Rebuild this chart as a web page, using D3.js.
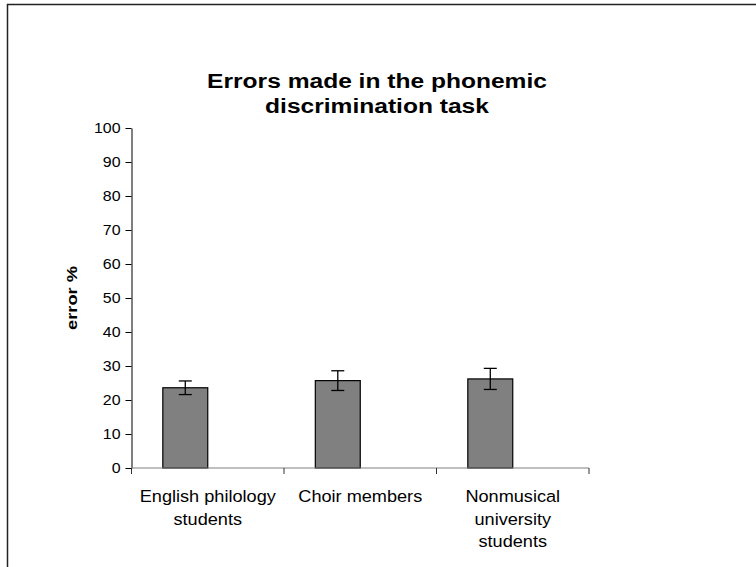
<!DOCTYPE html>
<html>
<head>
<meta charset="utf-8">
<script src="https://cdn.jsdelivr.net/npm/d3@7"></script>
<style>
  html, body { margin: 0; padding: 0; background: #fff; }
  svg { display: block; }
  text { font-family: "Liberation Sans", Arial, sans-serif; fill: #000; }
</style>
</head>
<body>
<svg id="chart" width="756" height="567"></svg>
<script>
// ---- data ----
const titleLines = ["Errors made in the phonemic", "discrimination task"];
const categories = ["English philology students", "Choir members", "Nonmusical university students"];
const categoryLines = [["English philology", "students"], ["Choir members"], ["Nonmusical", "university", "students"]];
const series = ["errors", "empty"];
const values = [23.6, 25.7, 26.2];
const errors = [2.0, 2.9, 3.1];
const yTicks = [0, 10, 20, 30, 40, 50, 60, 70, 80, 90, 100];
const yLabel = "error %";

// ---- layout ----
const svg = d3.select("#chart");
const plot = { left: 131.5, right: 589, top: 128, bottom: 468 };

svg.append("rect").attr("width", 756).attr("height", 567).attr("fill", "#fff");
svg.append("path").attr("d", "M7.5,567V4.5H756").attr("fill", "none").attr("stroke", "#222").attr("stroke-width", 1.5);

const x = d3.scaleBand().domain(categories).range([plot.left, plot.right]).padding(0);
const xs = d3.scaleBand().domain(series).range([0, x.bandwidth()]).paddingInner(0).paddingOuter(0.697);
const y = d3.scaleLinear().domain([0, 100]).range([plot.bottom, plot.top]);

// title
svg.append("g").selectAll("text").data(titleLines).join("text")
  .attr("transform", (d, i) => `translate(377,${88 + i * 24.5}) scale(1.17,1)`)
  .attr("text-anchor", "middle")
  .attr("font-size", 21).attr("font-weight", "bold")
  .text(d => d);

// y axis
const TSX = 1.1;
const gy = svg.append("g").attr("transform", `translate(${plot.left},0)`)
  .call(d3.axisLeft(y).tickValues(yTicks).tickSize(6).tickPadding(4).tickSizeOuter(0));
gy.select(".domain").attr("stroke", "#000");
gy.selectAll(".tick line").attr("stroke", "#000");
gy.selectAll(".tick text").attr("font-size", 14.5).attr("font-family", "Liberation Sans, Arial, sans-serif")
  .attr("x", -11 / TSX).attr("transform", `scale(${TSX},1)`);

// y label
svg.append("text")
  .attr("transform", `translate(77,${(plot.top + plot.bottom) / 2}) rotate(-90) scale(1.22,1)`)
  .attr("text-anchor", "middle")
  .attr("font-size", 15).attr("font-weight", "bold")
  .text(yLabel);

// bars
const data = categories.map((c, i) => ({ c, v: values[i], e: errors[i] }));
svg.append("g").selectAll("rect").data(data).join("rect")
  .attr("x", d => x(d.c) + xs("errors"))
  .attr("width", xs.bandwidth())
  .attr("y", d => y(d.v))
  .attr("height", d => y(0) - y(d.v))
  .attr("fill", "#808080").attr("stroke", "#000").attr("stroke-width", 1.2);

// error bars
const eg = svg.append("g").attr("stroke", "#000").attr("stroke-width", 1.3);
data.forEach(d => {
  const cx = x(d.c) + xs("errors") + xs.bandwidth() / 2;
  eg.append("line").attr("x1", cx).attr("x2", cx).attr("y1", y(d.v + d.e)).attr("y2", y(d.v - d.e));
  eg.append("line").attr("x1", cx - 6.5).attr("x2", cx + 6.5).attr("y1", y(d.v + d.e)).attr("y2", y(d.v + d.e));
  eg.append("line").attr("x1", cx - 6.5).attr("x2", cx + 6.5).attr("y1", y(d.v - d.e)).attr("y2", y(d.v - d.e));
});

// x axis
const gx = svg.append("g").attr("transform", `translate(0,${plot.bottom})`);
gx.append("line").attr("x1", plot.left).attr("x2", plot.right).attr("y1", 0).attr("y2", 0)
  .attr("stroke", "#808080").attr("stroke-width", 1.2);
const boundaries = categories.map(c => x(c)).concat([x(categories[categories.length - 1]) + x.bandwidth()]);
gx.selectAll("line.tk").data(boundaries).join("line").attr("class", "tk")
  .attr("x1", d => d).attr("x2", d => d).attr("y1", 0).attr("y2", 6)
  .attr("stroke", "#333").attr("stroke-width", 1);

// category labels
categories.forEach((c, i) => {
  const cx = x(c) + x.bandwidth() / 2;
  svg.append("g").selectAll("text").data(categoryLines[i]).join("text")
    .attr("transform", (d, j) => `translate(${cx},${502 + j * 22.5}) scale(1.1,1)`)
    .attr("text-anchor", "middle")
    .attr("font-size", 16.5)
    .text(d => d);
});
</script>
</body>
</html>
